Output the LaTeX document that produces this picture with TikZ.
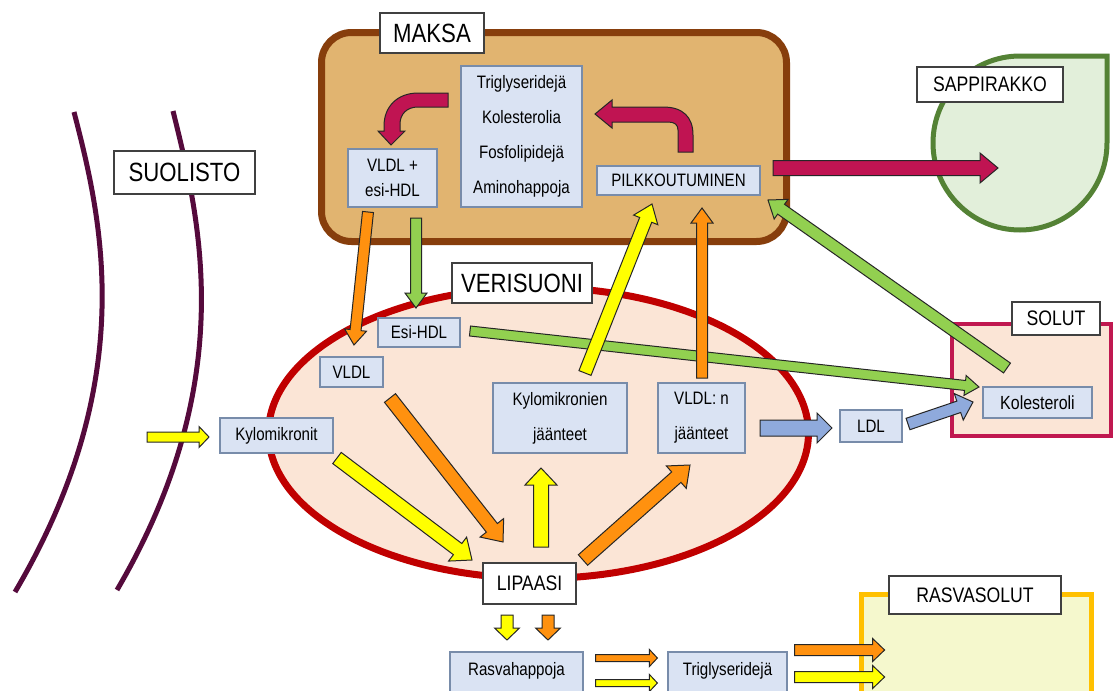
\documentclass[tikz,border=0pt]{standalone}
\usepackage{fontspec}
\setmainfont{Liberation Sans}[FakeStretch=0.84]
\usepackage{tikz}
\usetikzlibrary{calc}

\definecolor{boxfill}{RGB}{218,227,243}
\definecolor{boxline}{RGB}{120,140,170}
\definecolor{liverfill}{RGB}{225,180,112}
\definecolor{liverline}{RGB}{135,62,12}
\definecolor{vesselfill}{RGB}{251,229,214}
\definecolor{vesselline}{RGB}{192,0,0}
\definecolor{gallfill}{RGB}{226,239,218}
\definecolor{gallline}{RGB}{84,130,53}
\definecolor{cellline}{RGB}{192,24,80}
\definecolor{fatfill}{RGB}{245,248,205}
\definecolor{fatline}{RGB}{255,192,0}
\definecolor{gutline}{RGB}{85,10,60}
\definecolor{bileredd}{RGB}{192,20,82}
\definecolor{arrorange}{RGB}{255,145,15}
\definecolor{arryellow}{RGB}{255,255,0}
\definecolor{arrgreen}{RGB}{146,208,80}
\definecolor{arrblue}{RGB}{143,170,220}

% block arrow: colour, from, to, shaft width, head width, head length
\newcommand{\fatarrow}[6]{%
  \draw[arrline, fill=#1] let \p1=(#2), \p2=(#3),
      \n1={atan2(\y2-\y1,\x2-\x1)}, \n2={veclen(\x2-\x1,\y2-\y1)},
      \n3={\n2-#6}, \n4={#4/2}, \n5={#5/2}, \n6={\n1+90}, \n7={\n1-90} in
    ($(\p1)+(\n6:\n4)$) -- ($(\p1)+(\n1:\n3)+(\n6:\n4)$) -- ($(\p1)+(\n1:\n3)+(\n6:\n5)$)
    -- (\p2) -- ($(\p1)+(\n1:\n3)+(\n7:\n5)$) -- ($(\p1)+(\n1:\n3)+(\n7:\n4)$)
    -- ($(\p1)+(\n7:\n4)$) -- cycle;}

\begin{document}
\begin{tikzpicture}[
    x=0.5pt, y=-0.5pt,
    lbox/.style={draw=boxline, fill=boxfill, line width=0.6pt, inner sep=0pt, align=center, font=\fontsize{9}{17.5}\selectfont},
    tag/.style={draw=black!75, fill=white, line width=0.6pt, inner sep=0pt, font=\fontsize{13.2}{15}\selectfont},
    smalltag/.style={tag, font=\fontsize{10.5}{12}\selectfont},
    arrline/.style={draw=black!85, line width=0.5pt, line join=miter}
  ]
  \useasboundingbox (0,0) rectangle (1116,691);
  \clip (0,0) rectangle (1116,691);
  \fill[white] (0,0) rectangle (1116,691);

  % suolisto walls
  \draw[gutline, line width=2.5pt] (74,112) .. controls (102,220) and (140,380) .. (15,592);
  \draw[gutline, line width=2.5pt] (173,111) .. controls (200,220) and (240,380) .. (117,590);

  % organs
  \draw[liverline, fill=liverfill, line width=3.5pt, rounded corners=15pt] (321.5,32.5) rectangle (786.5,241.5);
  \draw[gallline, fill=gallfill, line width=2.5pt] (1107,56) -- (1107,143) arc[start angle=0, end angle=-270, radius=43.5pt] -- cycle;
  \draw[vesselline, fill=vesselfill, line width=3.5pt] (538.5,433) ellipse[x radius=135pt, y radius=72.75pt];
  \draw[cellline, fill=vesselfill, line width=2pt] (952,324) rectangle (1111,436);
  \draw[fatline, fill=fatfill, line width=2.5pt] (861.5,594.5) rectangle (1091.5,720);

  % labels and boxes
  \node[tag, minimum width=52pt, minimum height=20pt] (maksa) at (432,33) {MAKSA};
  \node[tag, minimum width=70.5pt, minimum height=21.5pt] (suolisto) at (184.5,172.5) {SUOLISTO};
  \node[tag, minimum width=70pt, minimum height=20pt] (verisuoni) at (522,283) {VERISUONI};
  \node[smalltag, minimum width=73pt, minimum height=17.5pt] (sappirakko) at (990,84.5) {SAPPIRAKKO};
  \node[smalltag, minimum width=44pt, minimum height=16.5pt] (solut) at (1056,318.5) {SOLUT};
  \node[smalltag, minimum width=86pt, minimum height=19pt] (rasvasolut) at (975,595) {RASVASOLUT};
  \node[smalltag, minimum width=46.5pt, minimum height=20.5pt] (lipaasi) at (529.5,583.5) {LIPAASI};

  \node[lbox, minimum width=60.5pt, minimum height=70.5pt] (aineet) at (521.5,136.5) {Triglyseridejä\\Kolesterolia\\Fosfolipidejä\\Aminohappoja};
  \node[lbox, minimum width=44.5pt, minimum height=29pt, font=\fontsize{9}{12.5}\selectfont] (vldlhdl) at (392.5,178) {VLDL +\\esi-HDL};
  \node[lbox, minimum width=81.5pt, minimum height=14.5pt] (pilkk) at (678.5,180.5) {PILKKOUTUMINEN};
  \node[lbox, minimum width=56.5pt, minimum height=17.5pt] (kylo) at (276.5,435.5) {Kylomikronit};
  \node[lbox, minimum width=41pt, minimum height=14.5pt] (esihdl) at (419,332.5) {Esi-HDL};
  \node[lbox, minimum width=31.5pt, minimum height=15pt] (vldl) at (351.5,372) {VLDL};
  \node[lbox, minimum width=67pt, minimum height=35pt] (kylojaa) at (560,418) {Kylomikronien\\jäänteet};
  \node[lbox, minimum width=43.5pt, minimum height=35pt] (vldljaa) at (701.5,418) {VLDL: n\\jäänteet};
  \node[lbox, minimum width=31pt, minimum height=16pt] (ldl) at (871,426) {LDL};
  \node[lbox, minimum width=54.5pt, minimum height=15.5pt, font=\fontsize{9.5}{12}\selectfont] (kol) at (1037.5,402.5) {Kolesteroli};
  \node[lbox, minimum width=66.5pt, minimum height=24pt, text height=7pt, text depth=8pt] (rasvah) at (516.5,676) {Rasvahappoja};
  \node[lbox, minimum width=59.5pt, minimum height=24pt, text height=7pt, text depth=8pt] (trigly) at (727.5,676) {Triglyseridejä};

  % arrow end points
  \coordinate (a1) at (368,212);  \coordinate (b1) at (354,345);
  \coordinate (a2) at (416,218);  \coordinate (b2) at (416,308);
  \coordinate (a3) at (470,331);  \coordinate (b3) at (979,387);
  \coordinate (a4) at (1007,368); \coordinate (b4) at (768,200);
  \coordinate (a5) at (585,373);  \coordinate (b5) at (652,204);
  \coordinate (a6) at (702,378);  \coordinate (b6) at (702,208);
  \coordinate (a7) at (337,458);  \coordinate (b7) at (472,560);
  \coordinate (a8) at (390,398);  \coordinate (b8) at (503,542);
  \coordinate (a9) at (541,547);  \coordinate (b9) at (541,468);
  \coordinate (a10) at (583,560); \coordinate (b10) at (690,465);
  \coordinate (a11) at (760,428); \coordinate (b11) at (832,428);
  \coordinate (a12) at (908,424); \coordinate (b12) at (973,402);
  \coordinate (a13) at (773,168); \coordinate (b13) at (998,168);
  \coordinate (a14) at (147,437); \coordinate (b14) at (209,437);

  % bent arrows inside the liver
  \draw[arrline, fill=bileredd] (448,93) -- (418,93) .. controls (398,93) and (384,106) .. (384,126)
    -- (384,131) -- (378,131) -- (391,145) -- (405,131) -- (400,131) -- (400,124)
    .. controls (400,114) and (407,107) .. (418,107) -- (448,107) -- cycle;
  \draw[arrline, fill=bileredd] (678,152) -- (678,130) .. controls (678,125) and (675,122) .. (668,122)
    -- (612,122) -- (612,128) -- (595,114) -- (612,100) -- (612,107) -- (663,107)
    .. controls (683,107) and (693,117) .. (693,135) -- (693,152) -- cycle;

  \fatarrow{arrorange}{a1}{b1}{5.5pt}{11pt}{7.5pt}
  \fatarrow{arrgreen}{a2}{b2}{5.5pt}{11pt}{7.5pt}
  \fatarrow{arrgreen}{a3}{b3}{5pt}{10pt}{7pt}
  \fatarrow{arrgreen}{a4}{b4}{6pt}{12pt}{8pt}
  \fatarrow{arryellow}{a5}{b5}{6.5pt}{13pt}{8.5pt}
  \fatarrow{arrorange}{a6}{b6}{5.5pt}{11pt}{7.5pt}
  \fatarrow{arryellow}{a7}{b7}{7pt}{15pt}{9pt}
  \fatarrow{arrorange}{a8}{b8}{7pt}{15pt}{9pt}
  \fatarrow{arryellow}{a9}{b9}{7.5pt}{16pt}{8.5pt}
  \fatarrow{arrorange}{a10}{b10}{7pt}{15pt}{9pt}
  \fatarrow{arrblue}{a11}{b11}{8pt}{15pt}{7.5pt}
  \fatarrow{arrblue}{a12}{b12}{6pt}{14pt}{7.5pt}
  \fatarrow{bileredd}{a13}{b13}{7.5pt}{15pt}{9pt}
  \fatarrow{arryellow}{a14}{b14}{5pt}{10.5pt}{5pt}

  % below the lipase
  \coordinate (a15) at (507,615); \coordinate (b15) at (507,640);
  \coordinate (a16) at (548,615); \coordinate (b16) at (548,640);
  \fatarrow{arryellow}{a15}{b15}{6pt}{12.5pt}{6pt}
  \fatarrow{arrorange}{a16}{b16}{6pt}{12.5pt}{6pt}
  \fatarrow{arrorange}{$(rasvah.east)+(12,-18)$}{$(trigly.west)+(-10,-18)$}{3.5pt}{8.5pt}{4pt}
  \fatarrow{arryellow}{$(rasvah.east)+(12,7)$}{$(trigly.west)+(-10,7)$}{3.5pt}{8.5pt}{4pt}
  \fatarrow{arrorange}{$(trigly.east)+(7,-26)$}{$(trigly.east)+(97,-26)$}{5.5pt}{11.5pt}{6pt}
  \fatarrow{arryellow}{$(trigly.east)+(7,1)$}{$(trigly.east)+(97,1)$}{5.5pt}{11.5pt}{6pt}
\end{tikzpicture}
\end{document}
